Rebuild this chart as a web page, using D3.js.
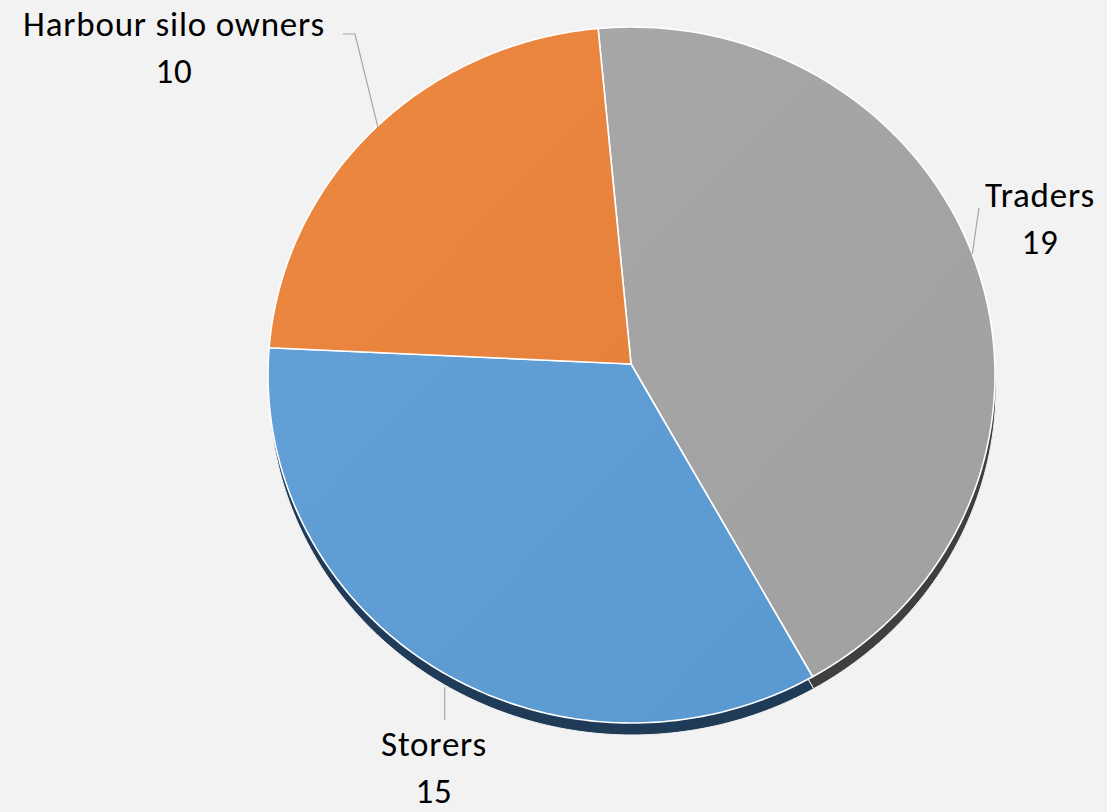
<!DOCTYPE html>
<html>
<head>
<meta charset="utf-8">
<script src="https://cdn.jsdelivr.net/npm/d3@7"></script>
<style>
  html, body { margin: 0; padding: 0; background: #f2f2f2; }
  svg { display: block; }
</style>
</head>
<body>
<svg id="chart" width="1107" height="812"></svg>
<script>
// ---- data ----
const categories = ["Traders", "Storers", "Harbour silo owners"];
const values = [19, 15, 10];
const colors = ["#a5a5a5", "#5b9bd5", "#e8803a"];
const lightColors = ["#a9a9a9", "#66a2da", "#ec8840"];
const darkColors = ["#3f3f3f", "#1f3b58", "#8a4a1f"];

// ---- layout ----
const W = 1107, H = 812;
const apex = { x: 631, y: 364 };          // where slices meet (perspective)
const ell = { cx: 631.5, cy: 375, rx: 363.5, ry: 348 };
const depth = { dx: 1, dy: 12 };
const startDeg = -5.6;

const svg = d3.select("#chart");
svg.append("rect").attr("width", W).attr("height", H).attr("fill", "#f2f2f2");

const defs = svg.append("defs");
categories.forEach((c, i) => {
  const g = defs.append("linearGradient")
    .attr("id", "g" + i)
    .attr("gradientUnits", "userSpaceOnUse")
    .attr("x1", ell.cx - ell.rx).attr("y1", ell.cy - ell.ry)
    .attr("x2", ell.cx + ell.rx).attr("y2", ell.cy + ell.ry);
  g.append("stop").attr("offset", "0%").attr("stop-color", lightColors[i]);
  g.append("stop").attr("offset", "100%").attr("stop-color", d3.color(colors[i]).darker(0.08));
});

const pie = d3.pie().sort(null)
  .startAngle(startDeg * Math.PI / 180)
  .endAngle(startDeg * Math.PI / 180 + 2 * Math.PI);
const arcs = pie(values);

// intersection of a ray from apex (angle clockwise from top) with the ellipse
function hit(a, off) {
  const o = off || { dx: 0, dy: 0 };
  const dx = Math.sin(a), dy = -Math.cos(a);
  const px = apex.x - ell.cx, py = apex.y - ell.cy;
  const A = (dx * dx) / (ell.rx * ell.rx) + (dy * dy) / (ell.ry * ell.ry);
  const B = 2 * ((px * dx) / (ell.rx * ell.rx) + (py * dy) / (ell.ry * ell.ry));
  const C = (px * px) / (ell.rx * ell.rx) + (py * py) / (ell.ry * ell.ry) - 1;
  const t = (-B + Math.sqrt(B * B - 4 * A * C)) / (2 * A);
  return { x: apex.x + dx * t + o.dx, y: apex.y + dy * t + o.dy };
}
function paramAngle(p, o) {
  return Math.atan2((p.x - o.dx - ell.cx) / ell.rx, -(p.y - o.dy - ell.cy) / ell.ry);
}
function slicePath(d, off) {
  const o = off || { dx: 0, dy: 0 };
  const p0 = hit(d.startAngle, o), p1 = hit(d.endAngle, o);
  let t0 = paramAngle(p0, o), t1 = paramAngle(p1, o);
  let diff = t1 - t0; while (diff < 0) diff += 2 * Math.PI;
  const path = d3.path();
  path.moveTo(apex.x + o.dx, apex.y + o.dy);
  path.lineTo(p0.x, p0.y);
  const n = 120;
  for (let k = 1; k <= n; k++) {
    const t = t0 + diff * k / n;
    path.lineTo(ell.cx + o.dx + ell.rx * Math.sin(t), ell.cy + o.dy - ell.ry * Math.cos(t));
  }
  path.closePath();
  return path.toString();
}

// depth (side) layer
svg.append("g").selectAll("path").data(arcs).join("path")
  .attr("d", d => slicePath(d, depth))
  .attr("fill", (d, i) => darkColors[i])
  .attr("stroke", "#f2f2f2").attr("stroke-width", 1);

// faces
svg.append("g").selectAll("path").data(arcs).join("path")
  .attr("d", d => slicePath(d))
  .attr("fill", (d, i) => "url(#g" + i + ")")
  .attr("stroke", "#ffffff").attr("stroke-width", 1.6).attr("stroke-linejoin", "round");

// ---- labels ----
const fontFamily = "Carlito, Calibri, Lato, 'Open Sans', sans-serif";
const fontSize = 35;
const labelPos = [
  { x: 1040, y: 207, lead: d => { const p = hit((d.startAngle + d.endAngle) / 2); return [[p.x, p.y], [979, 208]]; } },
  { x: 434, y: 756, lead: d => { const p = hit((d.startAngle + d.endAngle) / 2, depth); return [[p.x, p.y + 2], [p.x, 720]]; } },
  { x: 174, y: 36, lead: d => { const p = hit((d.startAngle + d.endAngle) / 2); return [[p.x - 1, p.y + 2], [355, 34], [343, 34]]; } }
];

const lg = svg.append("g");
lg.selectAll("path").data(arcs).join("path")
  .attr("d", (d, i) => d3.line()(labelPos[i].lead(d)))
  .attr("fill", "none").attr("stroke", "#a6a6a6").attr("stroke-width", 1.2);

const tg = svg.append("g").attr("font-family", fontFamily).attr("font-size", fontSize)
  .attr("letter-spacing", 0.8)
  .attr("fill", "#000").attr("text-anchor", "middle");
arcs.forEach((d, i) => {
  const t = tg.append("text").attr("x", labelPos[i].x).attr("y", labelPos[i].y);
  t.append("tspan").attr("x", labelPos[i].x).text(categories[i]);
  t.append("tspan").attr("x", labelPos[i].x).attr("dy", 47).text(values[i]);
});
</script>
</body>
</html>
